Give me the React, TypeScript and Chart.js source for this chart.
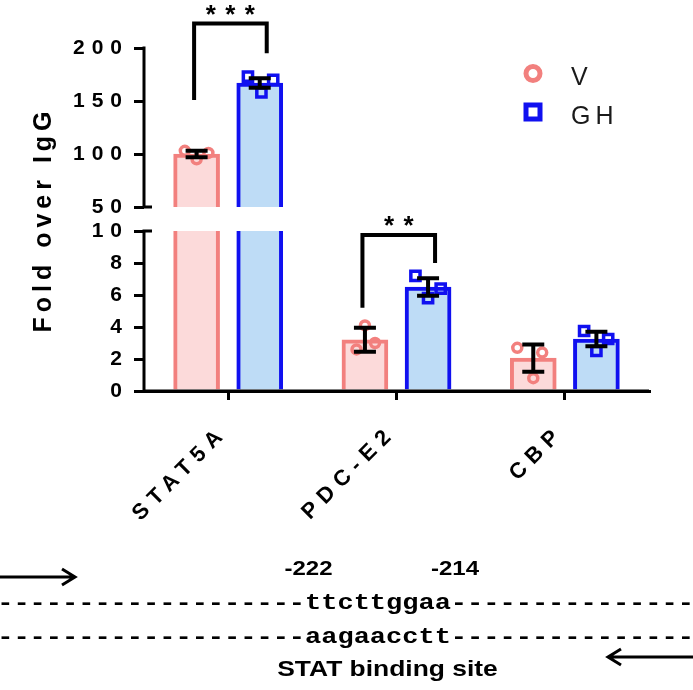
import React, { useEffect, useRef } from 'react';
import { Chart, registerables, LinearScale } from 'chart.js';

Chart.register(...registerables);

// ---------------- data ----------------
const CATEGORIES = ['STAT5A', 'PDC-E2', 'CBP'];
const SERIES = ['V', 'GH'];
const V_MEAN = [100, 3.2, 2.05];
const V_SEM = [3, 0.75, 0.85];
const GH_MEAN = [167, 6.5, 3.25];
const GH_SEM = [4.5, 0.55, 0.45];
const V_POINTS = [[103, 95, 101], [2.6, 4.1, 3.0], [2.7, 0.8, 2.4]];
const GH_POINTS = [[173, 158, 170], [7.2, 5.8, 6.4], [3.75, 2.5, 3.25]];
const Y_TICKS = [0, 2, 4, 6, 8, 10, 50, 100, 150, 200];
const AXIS_BREAK = [10, 50];
const Y_MAX = 200;
const Y_TITLE = 'Fold over IgG';
const SIG_LABELS = ['***', '**'];
const SIG_CATS = [0, 1];
const SIG_LEFT = [151, 5.2];
const SIG_RIGHT = [195, 8.0];
const SIG_TOP = [223, 9.75];
const SEQ_TOP = 'ttcttggaa';
const SEQ_BOTTOM = 'aagaacctt';
const SEQ_POSITIONS = ['-222', '-214'];
const SITE_LABEL = 'STAT binding site';

// jitter of individual points (fraction of a category)
const V_JITTER = [[-0.07, 0, 0.07], [-0.05, 0, 0.06], [-0.095, 0, 0.053]];
const GH_JITTER = [[-0.07, 0.01, 0.08], [-0.075, 0, 0.075], [-0.073, 0, 0.07]];

// ---------------- style ----------------
const V_COLOR = '#F2807E';
const V_FILL = '#FCDADA';
const GH_COLOR = '#1010F0';
const GH_FILL = '#BEDCF6';
const FONT = '"Liberation Sans", Arial, Helvetica, sans-serif';
const MONO = '"Liberation Mono", "Courier New", monospace';
const BAR_SHIFT = 0.1875;
const BAR_THICKNESS = 46;
const LOW_FRAC = 160 / 343;
const GAP_FRAC = 24 / 343;

class BrokenLinearScale extends LinearScale {
  static id = 'brokenLinear';
  static defaults = {};
  segs() {
    const h = this.bottom - this.top;
    const low = h * LOW_FRAC;
    const gap = h * GAP_FRAC;
    return { low, gap, up: h - low - gap };
  }
  getPixelForValue(v) {
    if (v === null || v === undefined || isNaN(v)) return NaN;
    const { low, gap, up } = this.segs();
    const b = this.bottom;
    const [lo, hi] = AXIS_BREAK;
    if (v <= lo) return b - (v / lo) * low;
    if (v >= hi) return b - low - gap - ((v - hi) / (Y_MAX - hi)) * up;
    return b - low - ((v - lo) / (hi - lo)) * gap;
  }
  getValueForPixel(p) {
    const { low, gap, up } = this.segs();
    const d = this.bottom - p;
    const [lo, hi] = AXIS_BREAK;
    if (d <= low) return (d / low) * lo;
    if (d >= low + gap) return hi + ((d - low - gap) / up) * (Y_MAX - hi);
    return lo + ((d - low) / gap) * (hi - lo);
  }
  drawTitle() {
    const ctx = this.ctx;
    const prev = ctx.letterSpacing;
    ctx.letterSpacing = '5px';
    super.drawTitle();
    ctx.letterSpacing = prev;
  }
}
Chart.register(BrokenLinearScale);

function stretchedText(ctx, text, x, y, sx, align) {
  ctx.save();
  ctx.translate(x, y);
  ctx.scale(sx, 1);
  ctx.textAlign = align;
  ctx.fillText(text, 0, 0);
  ctx.restore();
}

function arrow(ctx, x1, y, x2) {
  const dir = Math.sign(x2 - x1);
  ctx.beginPath();
  ctx.moveTo(x1, y);
  ctx.lineTo(x2, y);
  ctx.moveTo(x2 - dir * 13, y - 8);
  ctx.lineTo(x2, y);
  ctx.lineTo(x2 - dir * 13, y + 8);
  ctx.stroke();
}

const decorPlugin = {
  id: 'decor',
  beforeDraw(chart) {
    chart.ctx.letterSpacing = '7px';
  },
  afterDatasetsDraw(chart) {
    const { ctx, chartArea } = chart;
    const y = chart.scales.y;
    ctx.save();
    ctx.letterSpacing = '0px';
    const gTop = y.getPixelForValue(AXIS_BREAK[1]);
    const gBot = y.getPixelForValue(AXIS_BREAK[0]);
    ctx.fillStyle = '#fff';
    ctx.fillRect(chartArea.left + 2, gTop, chartArea.right - chartArea.left, gBot - gTop);
    const groups = [[V_MEAN, V_SEM, 0], [GH_MEAN, GH_SEM, 1]];
    ctx.strokeStyle = '#000';
    ctx.lineWidth = 4;
    groups.forEach(([means, sems, di]) => {
      const meta = chart.getDatasetMeta(di);
      means.forEach((m, i) => {
        const x = meta.data[i].x;
        const yHi = y.getPixelForValue(m + sems[i]);
        const yLo = y.getPixelForValue(m - sems[i]);
        ctx.beginPath();
        ctx.moveTo(x, yHi);
        ctx.lineTo(x, yLo);
        ctx.moveTo(x - 11, yHi);
        ctx.lineTo(x + 11, yHi);
        ctx.moveTo(x - 11, yLo);
        ctx.lineTo(x + 11, yLo);
        ctx.stroke();
      });
    });
    ctx.restore();
  },
  afterDraw(chart) {
    const { ctx, chartArea } = chart;
    const y = chart.scales.y;
    ctx.save();
    ctx.letterSpacing = '0px';
    ctx.strokeStyle = '#000';
    ctx.fillStyle = '#000';
    // axes
    const ax = chartArea.left;
    const p200 = y.getPixelForValue(Y_MAX);
    const p50 = y.getPixelForValue(AXIS_BREAK[1]);
    const p10 = y.getPixelForValue(AXIS_BREAK[0]);
    const p0 = y.getPixelForValue(0);
    ctx.lineWidth = 3;
    ctx.lineCap = 'butt';
    ctx.beginPath();
    ctx.moveTo(ax, p200 - 1.5);
    ctx.lineTo(ax, p50 + 1.5);
    ctx.moveTo(ax, p10 - 1.5);
    ctx.lineTo(ax, p0 + 1.5);
    ctx.moveTo(ax, p50);
    ctx.lineTo(ax + 8, p50);
    ctx.moveTo(ax, p10);
    ctx.lineTo(ax + 8, p10);
    ctx.moveTo(ax - 1.5, p0);
    ctx.lineTo(chartArea.right, p0);
    ctx.stroke();

    // significance brackets
    const m0 = chart.getDatasetMeta(0);
    const m1 = chart.getDatasetMeta(1);
    SIG_LABELS.forEach((lab, k) => {
      const c = SIG_CATS[k];
      const xl = m0.data[c].x - 2.5;
      const xr = m1.data[c].x + 7;
      const yt = y.getPixelForValue(SIG_TOP[k]);
      const yl = y.getPixelForValue(SIG_LEFT[k]);
      const yr = y.getPixelForValue(SIG_RIGHT[k]);
      ctx.lineWidth = 4;
      ctx.lineJoin = 'miter';
      ctx.beginPath();
      ctx.moveTo(xl, yl);
      ctx.lineTo(xl, yt);
      ctx.lineTo(xr, yt);
      ctx.lineTo(xr, yr);
      ctx.stroke();
      ctx.font = `bold 26px ${FONT}`;
      ctx.textAlign = 'center';
      ctx.textBaseline = 'alphabetic';
      const n = lab.length;
      const cx = (xl + xr) / 2;
      for (let j = 0; j < n; j++) {
        ctx.fillText(lab[j], cx + (j - (n - 1) / 2) * 19.5, yt - 1);
      }
    });

    // legend
    ctx.lineWidth = 5;
    ctx.strokeStyle = V_COLOR;
    ctx.beginPath();
    ctx.arc(533, 73.5, 7, 0, Math.PI * 2);
    ctx.stroke();
    ctx.strokeStyle = GH_COLOR;
    ctx.strokeRect(526, 105, 14, 14);
    ctx.fillStyle = '#1a1a1a';
    ctx.font = `25px ${FONT}`;
    ctx.textAlign = 'left';
    ctx.letterSpacing = '5px';
    ctx.fillText(SERIES[0], 571, 85);
    ctx.fillText(SERIES[1], 571, 124);
    ctx.letterSpacing = '0px';

    // promoter diagram
    ctx.fillStyle = '#000';
    ctx.strokeStyle = '#000';
    ctx.lineWidth = 3;
    arrow(ctx, 0, 577, 75);
    arrow(ctx, 693, 657, 608);
    ctx.font = `bold 20px ${FONT}`;
    stretchedText(ctx, SEQ_POSITIONS[0], 308.5, 575, 1.2, 'center');
    stretchedText(ctx, SEQ_POSITIONS[1], 455, 575, 1.2, 'center');
    ctx.font = `bold 22.5px ${MONO}`;
    const line1 = '-'.repeat(19) + SEQ_TOP + '-'.repeat(16);
    const line2 = '-'.repeat(19) + SEQ_BOTTOM + '-'.repeat(16);
    stretchedText(ctx, line1, -2.8, 609, 1.2, 'left');
    stretchedText(ctx, line2, -2.8, 643, 1.2, 'left');
    ctx.font = `bold 22px ${FONT}`;
    stretchedText(ctx, SITE_LABEL, 387.5, 676, 1.2, 'center');
    ctx.restore();
    ctx.letterSpacing = '0px';
  },
};

function barsFor(means, shift) {
  return means.map((v, i) => ({ x: i + shift, y: v }));
}

function pointsFor(points, jitter, shift) {
  const out = [];
  points.forEach((arr, i) => arr.forEach((v, j) => out.push({ x: i + shift + jitter[i][j], y: v })));
  return out;
}

export default function App() {
  const ref = useRef(null);
  useEffect(() => {
    document.body.style.margin = '0';
    const chart = new Chart(ref.current, {
      type: 'bar',
      data: {
        labels: CATEGORIES,
        datasets: [
          {
            type: 'bar', label: SERIES[0], data: barsFor(V_MEAN, -BAR_SHIFT), backgroundColor: V_FILL, borderColor: V_COLOR,
            borderWidth: 4, borderSkipped: 'start', grouped: false, barThickness: BAR_THICKNESS,
            xAxisID: 'xs', yAxisID: 'y', order: 2,
          },
          {
            type: 'bar', label: SERIES[1], data: barsFor(GH_MEAN, BAR_SHIFT), backgroundColor: GH_FILL, borderColor: GH_COLOR,
            borderWidth: 4, borderSkipped: 'start', grouped: false, barThickness: BAR_THICKNESS,
            xAxisID: 'xs', yAxisID: 'y', order: 2,
          },
          {
            type: 'scatter', label: SERIES[0] + ' points', data: pointsFor(V_POINTS, V_JITTER, -BAR_SHIFT),
            xAxisID: 'xs', yAxisID: 'y', pointStyle: 'circle', pointRadius: 4.5, pointBorderWidth: 3.5,
            pointBorderColor: V_COLOR, pointBackgroundColor: 'rgba(0,0,0,0)', order: 1,
          },
          {
            type: 'scatter', label: SERIES[1] + ' points', data: pointsFor(GH_POINTS, GH_JITTER, BAR_SHIFT),
            xAxisID: 'xs', yAxisID: 'y', pointStyle: 'rect', pointRadius: 6.5, pointBorderWidth: 3.5,
            pointBorderColor: GH_COLOR, pointBackgroundColor: 'rgba(0,0,0,0)', order: 1,
          },
        ],
      },
      options: {
        responsive: false,
        animation: false,
        devicePixelRatio: 1,
        events: [],
        layout: { padding: { left: 0, top: 48, right: 44, bottom: 159 } },
        plugins: { legend: { display: false }, tooltip: { enabled: false } },
        scales: {
          x: {
            type: 'category',
            labels: CATEGORIES,
            offset: true,
            afterFit: (s) => { s.height = 140; },
            border: { display: true, color: '#000', width: 3 },
            grid: { display: true, drawOnChartArea: false, offset: false, tickLength: 9, tickWidth: 3, tickColor: '#000', lineWidth: 3 },
            ticks: {
              autoSkip: false, minRotation: 45, maxRotation: 45, color: '#000', padding: 20, labelOffset: -4,
              font: { family: FONT, size: 22, weight: 'bold' },
            },
          },
          xs: { type: 'linear', display: false, min: -0.5, max: 2.5, offset: false },
          y: {
            type: 'brokenLinear',
            min: 0,
            max: Y_MAX,
            afterBuildTicks: (s) => { s.ticks = Y_TICKS.map((v) => ({ value: v })); },
            afterFit: (s) => { s.width = 144; },
            border: { display: false },
            grid: { display: true, drawOnChartArea: false, tickLength: 10, tickWidth: 3, tickColor: '#000', lineWidth: 3 },
            ticks: {
              autoSkip: false, color: '#000', padding: 5, callback: (v) => String(v),
              font: { family: FONT, size: 21, weight: 'bold' },
            },
            title: {
              display: true, text: Y_TITLE, color: '#000', padding: { top: 29, bottom: 0 },
              font: { family: FONT, size: 25, weight: 'bold' },
            },
          },
        },
      },
      plugins: [decorPlugin],
    });
    return () => chart.destroy();
  }, []);
  return (
    <div style={{ width: 693, height: 690 }}>
      <canvas ref={ref} width={693} height={690} style={{ display: 'block' }} />
    </div>
  );
}
